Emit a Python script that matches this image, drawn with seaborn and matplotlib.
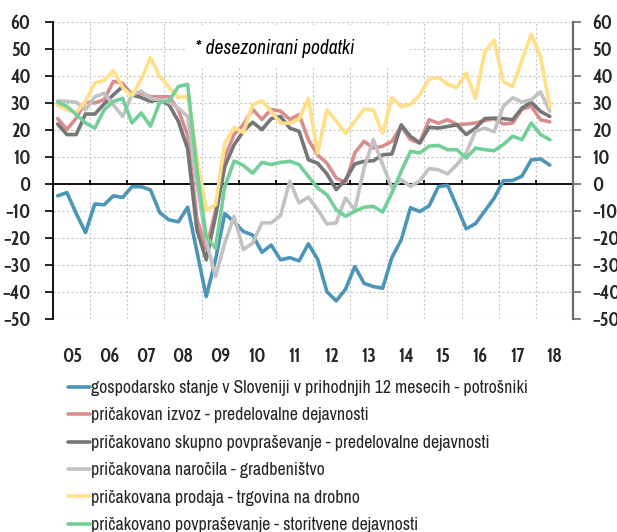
import numpy as np
import pandas as pd
import matplotlib.pyplot as plt
from matplotlib.patches import Rectangle
import seaborn as sns

sns.set_theme(style='white')
plt.rcParams['font.family'] = ['Archivo Narrow', 'DejaVu Sans']
plt.rcParams['font.stretch'] = 'condensed'
TICK_FONT = ['Cabin Condensed', 'DejaVu Sans']

# quarterly data, 2005 Q1 - 2018 Q2 (desezonirano)
years = np.repeat(np.arange(2005, 2019), 4)[:54]
quarter = np.tile([1, 2, 3, 4], 14)[:54]
t = years + (quarter - 0.5) / 4

potrosniki = [-4.4, -3.2, -10.9, -18, -7.4, -7.7, -4.4, -5, -1, -1, -2.2, -10.6, -13.3, -14,
              -8.6, -25, -41.7, -28, -11, -14, -17.6, -18.9, -25.3, -22.6, -28.1, -27.3, -28.5, -22.2,
              -27.9, -39.9, -43.3, -39, -30.6, -36.8, -38, -38.6, -27.2, -20.7, -8.8, -10.2, -8.1, -1,
              -0.5, -8.4, -16.6, -14.7, -10, -5.3, 1.2, 1.3, 2.9, 8.9, 9.3, 7]
izvoz = [24.2, 20.2, 24.4, 30.4, 30, 31.2, 38, 37.3, 33, 33.6, 32.3, 32.3, 32.3, 27.4,
         18, -13, -24, -10, 10, 18.3, 22, 27.6, 23.9, 27.6, 27, 23.9, 25.7, 16.4,
         10.8, 7.7, 2.2, 0.4, 11.5, 15.8, 13.3, 14, 15.8, 21.4, 16.4, 15.2, 23.8, 22.5,
         23.8, 22, 22.2, 22.6, 23.5, 24.2, 22.2, 22.6, 27.6, 28.8, 23.8, 23]
skupno = [22.2, 18.3, 18.3, 25.9, 25.9, 29.6, 33, 36.1, 33, 32, 30.6, 31.2, 29.3, 23.2,
          13, -17, -28.1, -12, 6.5, 14.5, 19.5, 22.9, 20.1, 24.2, 25, 20.7, 19.5, 9,
          7.7, 3.7, -2.1, 1.6, 7.4, 8.4, 8.6, 10.8, 11.1, 21.9, 17.6, 15.2, 21, 20.7,
          21.3, 21.9, 18.3, 20.7, 24.2, 24.4, 24.2, 23.8, 28.1, 30.3, 26.9, 25]
gradbenistvo = [30.8, 30.6, 30.3, 27.4, 32.3, 33.6, 29.3, 25, 33, 34.4, 31.7, 31.2, 30.3, 28.1,
                25, 0, -21, -34.3, -21.9, -12, -24.3, -21.9, -14.4, -14.4, -11.7, 1, -7, -4.9,
                -9.5, -14.8, -14.4, -5.2, -9.5, 5.9, 16.4, 7.2, -1.5, 1.6, -0.9, 1.2, 5.7, 5.3,
                3.7, 7.2, 11.5, 19.5, 20.7, 19.3, 28.8, 31.9, 30.4, 31.2, 34.1, 26.9]
trgovina = [29, 27.5, 26.5, 30.6, 37.4, 38.3, 42, 35.8, 32.7, 38.8, 46.8, 39.8, 35.8, 32,
            32.5, 10.1, -9.6, -7.8, 15.1, 21, 19, 29.3, 30.8, 26.8, 22.5, 22.5, 24.1, 31.7,
            11.4, 27.4, 23.3, 18.8, 23.1, 27.7, 27.4, 18.8, 32, 28.6, 29.5, 33, 38.9, 39.4,
            36.9, 35.7, 41, 31.7, 49, 53.3, 37.9, 36, 45.9, 55.4, 47.2, 28.6]
storitve = [30.3, 28.8, 25.7, 22.6, 20.7, 27.4, 30.6, 31.7, 22.6, 26.3, 21.4, 30.3, 30.8, 36.1,
            36.9, 5.2, -19.5, -23.8, -1, 8.5, 6.9, 4, 8, 7.2, 8, 8.4, 7.2, 2.8,
            -1.5, -4, -9.5, -12, -10.1, -8.6, -8.3, -10.4, -3.3, 4.7, 12.1, 11.5, 14, 14.3,
            12.7, 12.7, 9.6, 13.3, 12.7, 12.3, 14.6, 17.7, 16.4, 22.6, 18.3, 16.4]

names = ['gospodarsko stanje v Sloveniji v prihodnjih 12 mesecih - potrošniki',
         'pričakovan izvoz - predelovalne dejavnosti',
         'pričakovano skupno povpraševanje - predelovalne dejavnosti',
         'pričakovana naročila - gradbeništvo',
         'pričakovana prodaja - trgovina na drobno',
         'pričakovano povpraševanje - storitvene dejavnosti']
colors = ['#4b96b8', '#d98e8e', '#767676', '#c2c2c2', '#ffdf88', '#72cf98']
series = [potrosniki, izvoz, skupno, gradbenistvo, trgovina, storitve]

df = pd.concat([pd.DataFrame({'t': t, 'vrednost': v, 'serija': n})
                for n, v in zip(names, series)], ignore_index=True)

fig = plt.figure(figsize=(6.17, 5.32), dpi=100)
ax = fig.add_axes([0.0859, 0.4004, 0.8428, 0.5583])
sns.lineplot(data=df, x='t', y='vrednost', hue='serija', hue_order=names,
             palette=dict(zip(names, colors)), lw=2.6, sort=False,
             legend=False, ax=ax)
handles = list(ax.lines)

ax.set_xlim(2005, 2019)
ax.set_ylim(-50, 60)
ax.set_yticks(range(-50, 61, 10))
ax.set_xticks(range(2005, 2020))
ax.set_xticklabels([])
mid = np.arange(2005, 2019) + 0.5
ax.set_xticks(mid, [f'{y % 100:02d}' for y in range(2005, 2019)], minor=True)
ax.set(xlabel='', ylabel='')
ax.grid(True, which='major', color='#c4c4c4', ls=(0, (2, 2)), lw=0.8)
ax.grid(False, which='minor')
ax.tick_params(axis='x', which='both', length=0, bottom=False)
ax.tick_params(axis='x', which='minor', pad=20, labelsize=13.5)
ax.tick_params(axis='y', left=True, direction='out', length=6, width=1.2,
               color='black', pad=10, labelsize=13.5)
for lab in ax.get_xticklabels(minor=True) + ax.get_yticklabels():
    lab.set_fontfamily(TICK_FONT)
    lab.set_fontweight('bold')
for s in ['top', 'bottom', 'right']:
    ax.spines[s].set_visible(False)
ax.spines['left'].set_color('black')
ax.spines['left'].set_linewidth(1.3)

# zero line with year tick marks
ax.axhline(0, color='black', lw=1.3, zorder=1.9)
ax.vlines(range(2006, 2019), 0, 1.4, color='black', lw=1.3, zorder=1.9)

ax2 = ax.twinx()
ax2.set_ylim(-50, 60)
ax2.set_yticks(range(-50, 61, 10))
ax2.grid(False)
for s in ['top', 'bottom', 'left']:
    ax2.spines[s].set_visible(False)
ax2.spines['right'].set_color('#6a6a6a')
ax2.spines['right'].set_linewidth(1.6)
ax2.tick_params(axis='y', right=True, direction='out', length=6, width=1.2,
                color='#6a6a6a', pad=8, labelsize=13.5)
for lab in ax2.get_yticklabels():
    lab.set_fontfamily(TICK_FONT)
    lab.set_fontweight('bold')

# note box
ax.add_patch(Rectangle((0.300, 0.874), 0.3645, 0.079, transform=fig.transFigure,
                       facecolor='white', edgecolor='none', zorder=1.5))
ax.text(195 / 617, 1 - 48 / 532, '* desezonirani podatki', transform=fig.transFigure,
        ha='left', va='center', fontsize=14, style='italic', color='black', zorder=3)

fig.legend(handles, names, loc='upper left', bbox_to_anchor=(68 / 617, 1 - 380 / 532),
           frameon=False, fontsize=12.8, handlelength=1.24, handletextpad=0.08,
           labelspacing=0.64, borderpad=0, borderaxespad=0)

fig.savefig('out.png', dpi=100)
